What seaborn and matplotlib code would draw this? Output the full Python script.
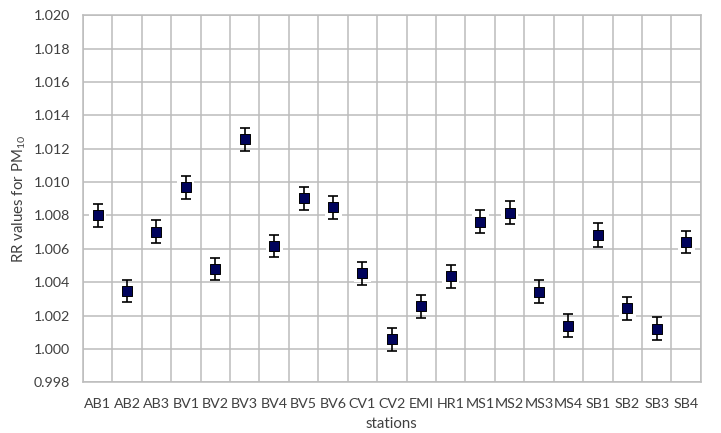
import matplotlib
matplotlib.use("Agg")
import matplotlib.pyplot as plt
import seaborn as sns
import numpy as np
import pandas as pd

stations = ["AB1", "AB2", "AB3", "BV1", "BV2", "BV3", "BV4", "BV5", "BV6", "CV1",
            "CV2", "EMI", "HR1", "MS1", "MS2", "MS3", "MS4", "SB1", "SB2", "SB3", "SB4"]
rr_values = [1.0080, 1.00347, 1.00702, 1.00968, 1.00479, 1.01256, 1.00617, 1.00902,
             1.00849, 1.00453, 1.00058, 1.00256, 1.00435, 1.00762, 1.00816, 1.00343,
             1.00140, 1.00681, 1.00244, 1.00122, 1.00641]
rr_err = [0.00068, 0.00068, 0.00069, 0.00068, 0.00068, 0.00068, 0.00068, 0.00068,
          0.00068, 0.00068, 0.00068, 0.00068, 0.00068, 0.00068, 0.00069, 0.00069,
          0.00068, 0.00072, 0.00068, 0.00068, 0.00068]
y_ticks = [0.998, 1.000, 1.002, 1.004, 1.006, 1.008, 1.010, 1.012, 1.014, 1.016, 1.018, 1.020]

sns.set_theme(style="white")
plt.rcParams['font.family'] = ['Lato', 'DejaVu Sans']
plt.rcParams['mathtext.fontset'] = 'custom'
plt.rcParams['mathtext.rm'] = 'Lato'
plt.rcParams['mathtext.it'] = 'Lato:italic'
plt.rcParams['mathtext.bf'] = 'Lato:bold'

df = pd.DataFrame({"station": stations, "rr": rr_values, "err": rr_err})
df["pos"] = np.arange(len(df))

fig = plt.figure(figsize=(7.21, 4.33), dpi=100)
ax = fig.add_axes([0.115, 0.117, 0.857, 0.848])

grid_c = "#bcbcbc"
# white halo behind markers
sns.scatterplot(data=df, x="pos", y="rr", marker="s", s=150, color="white",
                edgecolor="none", ax=ax, zorder=2.5, legend=False)
ax.errorbar(df["pos"], df["rr"], yerr=df["err"], fmt="none", ecolor="black",
            elinewidth=1.2, capsize=3.6, capthick=1.2, zorder=3)
sns.scatterplot(data=df, x="pos", y="rr", marker="s", s=62, color="#00035b",
                edgecolor="black", linewidth=0.7, ax=ax, zorder=4, legend=False)

ax.set_xlim(-0.5, len(stations) - 0.5)
ax.set_ylim(0.998, 1.020)
ax.set_yticks(y_ticks)
ax.set_yticklabels([f"{v:.3f}" for v in y_ticks])
ax.set_xticks(df["pos"])
ax.set_xticklabels(stations)
ax.set_xticks(np.arange(len(stations) + 1) - 0.5, minor=True)

ax.grid(True, axis="y", which="major", color=grid_c, linewidth=1.1)
ax.grid(True, axis="x", which="minor", color=grid_c, linewidth=1.1)
ax.grid(False, axis="x", which="major")
ax.set_axisbelow(True)
for sp in ax.spines.values():
    sp.set_color(grid_c)
    sp.set_linewidth(1.1)

ax.tick_params(axis="both", which="both", length=0)
ax.tick_params(axis="x", pad=11, labelsize=10.3, colors="#404040")
ax.tick_params(axis="y", pad=9, labelsize=10.3, colors="#404040")

ax.set_xlabel("stations", fontsize=10.8, color="#404040", labelpad=5)
ax.set_ylabel("RR values for PM$_{\\mathregular{10}}$", fontsize=10.8, color="#404040", labelpad=4)

fig.savefig("out.png", dpi=100)
